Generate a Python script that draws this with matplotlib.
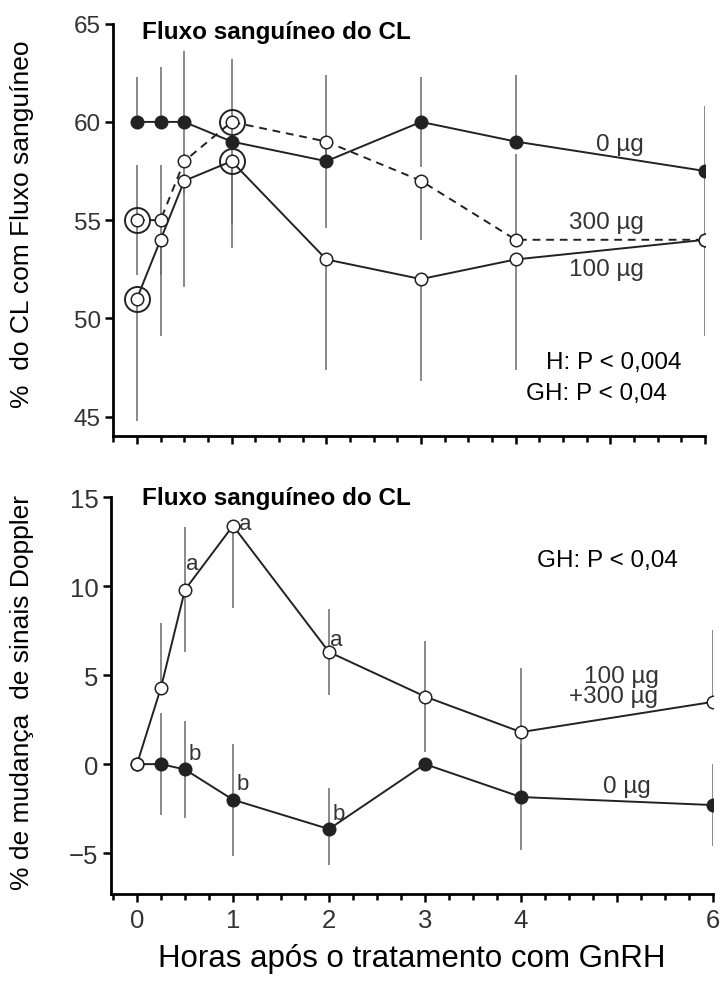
import numpy as np
import matplotlib.pyplot as plt
from matplotlib.ticker import FixedLocator, MultipleLocator

plt.rcParams['font.family'] = ['Liberation Sans', 'DejaVu Sans']

# Horas após o GnRH
hours = [0, 0.25, 0.5, 1, 2, 3, 4, 6]

# Painel superior: % do CL com fluxo sanguíneo
cl_0ug = [60, 60, 60, 59, 58, 60, 59, 57.5]
cl_0ug_lo = [0, 0, 3.6, 4.2, 0, 2.3, 0, 3.3]
cl_0ug_hi = [2.3, 2.8, 3.6, 4.2, 4.4, 2.3, 3.4, 3.3]

cl_300ug = [55, 55, 58, 60, 59, 57, 54, 54]
cl_300ug_lo = [2.8, 2.8, 0, 0, 4.4, 3.0, 0, 0]
cl_300ug_hi = [2.8, 2.8, 0, 0, 0, 0, 4.35, 0]

cl_100ug = [51, 54, 57, 58, 53, 52, 53, 54]
cl_100ug_lo = [6.2, 4.9, 5.4, 4.4, 5.65, 5.2, 5.65, 4.9]
cl_100ug_hi = [0, 0, 0, 0, 0, 0, 0, 0]

# pontos destacados (índices em hours)
ring_idx = [0, 3]

# Painel inferior: % de mudança de sinais Doppler
dop_gnrh = [0, 4.3, 9.8, 13.4, 6.3, 3.8, 1.8, 3.5]
dop_gnrh_lo = [0, 0, 3.5, 4.6, 2.4, 3.1, 3.6, 0]
dop_gnrh_hi = [0, 3.65, 3.5, 0, 2.4, 3.1, 3.6, 4.05]

dop_0ug = [0, 0, -0.3, -2.0, -3.65, 0.0, -1.85, -2.3]
dop_0ug_lo = [0, 2.85, 2.7, 3.15, 2.0, 0, 3.0, 2.3]
dop_0ug_hi = [0, 2.85, 2.7, 3.15, 2.3, 0, 3.0, 2.3]

sig_a_idx = [2, 3, 4]
sig_b_idx = [2, 3, 4]

x_major = [0, 1, 2, 3, 4, 5, 6]
x_labels = ['0', '1', '2', '3', '4', '', '6']

LINE = '#222222'
ERR = '#6a6a6a'
TXT = '#333333'


def err(ax, y, lo, hi):
    ax.errorbar(hours, y, yerr=[lo, hi], fmt='none', ecolor=ERR,
                elinewidth=1.1, capsize=0, zorder=1)


def series(ax, y, filled, ls='-'):
    ax.plot(hours, y, color=LINE, lw=1.4, ls=ls, zorder=2,
            dashes=(4, 3) if ls == '--' else (None, None))
    ax.plot(hours, y, ls='none', marker='o', ms=9, mew=1.1,
            mec=LINE, mfc=LINE if filled else 'white', zorder=4)


def style(ax, xmin, ysize):
    for s in ['top', 'right']:
        ax.spines[s].set_visible(False)
    for s in ['left', 'bottom']:
        ax.spines[s].set_linewidth(2.0)
    ax.set_xlim(xmin, 6)
    ax.xaxis.set_major_locator(FixedLocator(x_major))
    ax.xaxis.set_minor_locator(MultipleLocator(0.25))
    ax.tick_params(axis='x', which='major', length=6, width=1.8, direction='out')
    ax.tick_params(axis='x', which='minor', length=4, width=1.8, direction='out')
    ax.tick_params(axis='y', length=6, width=1.8, direction='out',
                   labelsize=ysize, labelcolor=TXT, pad=3)


fig = plt.figure(figsize=(7.21, 9.87), dpi=100)

# ---- painel superior ----
ax1 = fig.add_axes([0.157, 0.557, 0.821, 0.418])
err(ax1, cl_0ug, cl_0ug_lo, cl_0ug_hi)
err(ax1, cl_300ug, cl_300ug_lo, cl_300ug_hi)
err(ax1, cl_100ug, cl_100ug_lo, cl_100ug_hi)
series(ax1, cl_300ug, False, ls='--')
series(ax1, cl_100ug, False)
series(ax1, cl_0ug, True)
for i in ring_idx:
    for y in (cl_300ug, cl_100ug):
        ax1.plot(hours[i], y[i], ls='none', marker='o', ms=18, mew=1.4,
                 mec=LINE, mfc='none', zorder=5)
style(ax1, -0.25, 17.5)
ax1.set_ylim(44, 65)
ax1.set_yticks([45, 50, 55, 60, 65])
ax1.set_xticklabels([])
ax1.set_ylabel('%  do CL com Fluxo sanguíneo', fontsize=19, color='black')
ax1.yaxis.set_label_coords(-0.133, 0.516)
ax1.text(0.05, 64.6, 'Fluxo sanguíneo do CL', fontsize=17.5, fontweight='bold',
         va='center', ha='left')
ax1.text(5.1, 58.9, '0 µg', fontsize=17.5, color=TXT, ha='center', va='center')
ax1.text(4.96, 54.9, '300 µg', fontsize=17.5, color=TXT, ha='center', va='center')
ax1.text(4.96, 52.5, '100 µg', fontsize=17.5, color=TXT, ha='center', va='center')
ax1.text(5.03, 47.8, 'H: P < 0,004', fontsize=17.5, ha='center', va='center')
ax1.text(4.85, 46.2, 'GH: P < 0,04', fontsize=17.5, ha='center', va='center')

# ---- painel inferior ----
ax2 = fig.add_axes([0.154, 0.0932, 0.835, 0.402])
err(ax2, dop_gnrh, dop_gnrh_lo, dop_gnrh_hi)
err(ax2, dop_0ug, dop_0ug_lo, dop_0ug_hi)
series(ax2, dop_0ug, True)
series(ax2, dop_gnrh, False)
style(ax2, -0.27, 18.5)
ax2.set_ylim(-7.3, 15)
ax2.set_yticks([-5, 0, 5, 10, 15])
ax2.set_yticklabels(['\u22125', '0', '5', '10', '15'])
ax2.set_xticklabels(x_labels)
ax2.tick_params(axis='x', labelsize=18.5, labelcolor=TXT, pad=4)
ax2.set_xlabel('Horas após o tratamento com GnRH', fontsize=22.5, va='center')
ax2.xaxis.set_label_coords(0.5, -0.162)
ax2.set_ylabel('% de mudança  de sinais Doppler', fontsize=19)
ax2.yaxis.set_label_coords(-0.128, 0.511)
ax2.text(0.05, 15, 'Fluxo sanguíneo do CL', fontsize=17.5, fontweight='bold',
         va='center', ha='left')
# letras de significância ao lado dos pontos
a_offsets = {2: (0.08, 1.5), 3: (0.13, 0.1), 4: (0.08, 0.7)}
for i in sig_a_idx:
    dx, dy = a_offsets[i]
    ax2.text(hours[i] + dx, dop_gnrh[i] + dy, 'a',
             fontsize=16, color=TXT, ha='center', va='center')
for i in sig_b_idx:
    ax2.text(hours[i] + 0.1, dop_0ug[i] + 0.9, 'b',
             fontsize=16, color=TXT, ha='center', va='center')
ax2.text(4.9, 11.46, 'GH: P < 0,04', fontsize=17.5, ha='center', va='center')
ax2.text(5.05, 4.94, '100 µg', fontsize=17.5, color=TXT, ha='center', va='center')
ax2.text(4.96, 3.82, '+300 µg', fontsize=17.5, color=TXT, ha='center', va='center')
ax2.text(5.1, -1.24, '0 µg', fontsize=17.5, color=TXT, ha='center', va='center')

fig.savefig('out.png', dpi=100)
